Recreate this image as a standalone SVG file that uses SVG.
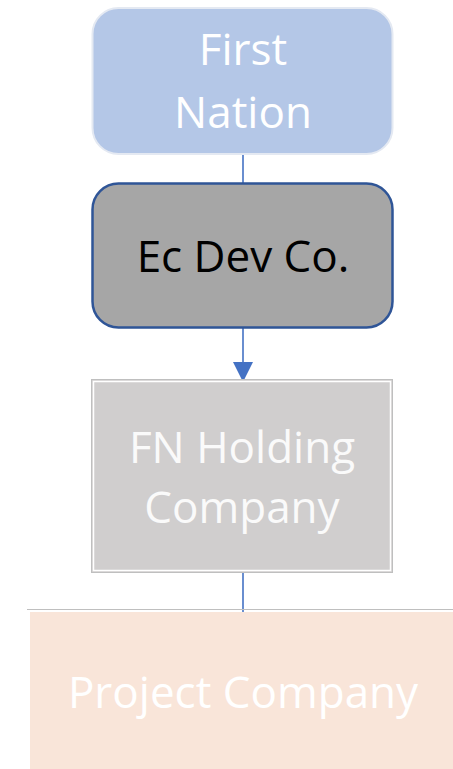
<svg xmlns="http://www.w3.org/2000/svg" width="453" height="769" viewBox="0 0 453 769">
  <style>
    .lbl { font-family: "Open Sans", "Noto Sans", "Liberation Sans", sans-serif; font-size: 44px; text-anchor: middle; }
    .link { stroke: #4472c4; stroke-width: 1.6; fill: none; }
  </style>
  <defs>
    <marker id="arrow" viewBox="0 0 10 10" refX="10" refY="5" markerWidth="22" markerHeight="20" markerUnits="userSpaceOnUse" orient="auto">
      <path d="M0,0 L10,5 L0,10 z" fill="#4472c4"/>
    </marker>
  </defs>
  <rect width="453" height="769" fill="#ffffff"/>

  <!-- connectors -->
  <g id="connectors">
    <line class="link" x1="243" y1="154" x2="243" y2="184"/>
    <line class="link" x1="243" y1="328" x2="243" y2="382" marker-end="url(#arrow)"/>
    <line class="link" x1="243" y1="573" x2="243" y2="612"/>
  </g>

  <g id="first-nation">
    <rect x="92.5" y="8" width="300" height="146" rx="26" fill="#b4c7e7" stroke="#e4e9f2" stroke-width="2"/>
    <text class="lbl" x="243" y="65" fill="#ffffff">First</text>
    <text class="lbl" x="243" y="128" fill="#ffffff">Nation</text>
  </g>

  <g id="ec-dev-co">
    <rect x="92.5" y="183.5" width="300" height="144" rx="26" fill="#a6a6a6" stroke="#2f5597" stroke-width="2.5"/>
    <text class="lbl" x="243" y="272" fill="#000000">Ec Dev Co.</text>
  </g>

  <g id="fn-holding">
    <rect x="91.5" y="379.5" width="301" height="193" fill="#d0cece" stroke="#bfbfbf" stroke-width="1"/>
    <rect x="93.5" y="381.5" width="297" height="189" fill="none" stroke="#ffffff" stroke-width="1.5"/>
    <text class="lbl" x="242" y="463" fill="#fafafa">FN Holding</text>
    <text class="lbl" x="242" y="523" fill="#fafafa">Company</text>
  </g>

  <g id="project-company">
    <line x1="27" y1="609.5" x2="453" y2="609.5" stroke="#bfbfbf" stroke-width="1"/>
    <rect x="30" y="612" width="423" height="157" fill="#f9e5d9"/>
    <text class="lbl" x="243" y="708" fill="#ffffff">Project Company</text>
  </g>
</svg>
